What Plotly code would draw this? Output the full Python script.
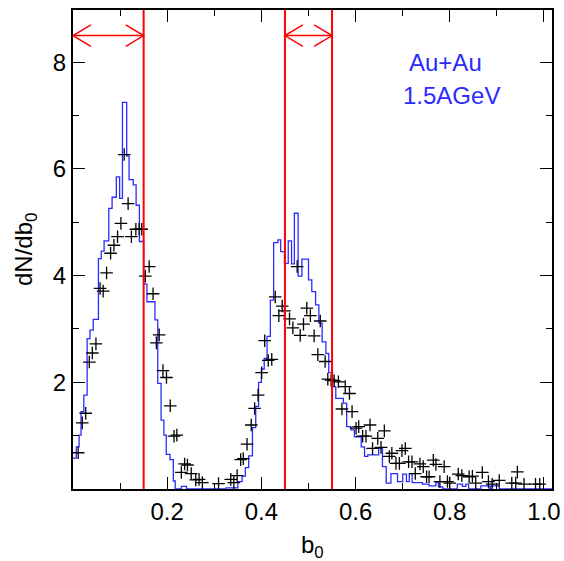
import plotly.graph_objects as go

# ---- data ----
hist_left_edges = [0.000, 0.007, 0.013, 0.017, 0.023, 0.030, 0.036, 0.043, 0.054, 0.060,
                   0.066, 0.076, 0.083, 0.092, 0.099, 0.105, 0.114, 0.119, 0.128, 0.134,
                   0.141, 0.150, 0.157, 0.174, 0.180, 0.187, 0.193, 0.198, 0.206, 0.213,
                   0.217, 0.230, 0.241, 0.325, 0.350, 0.359, 0.366, 0.373, 0.381, 0.388,
                   0.394, 0.400, 0.406, 0.412, 0.419, 0.426, 0.435, 0.441, 0.449, 0.457,
                   0.464, 0.470, 0.478, 0.486, 0.500, 0.507, 0.515, 0.522, 0.529, 0.537,
                   0.543, 0.551, 0.558, 0.574, 0.581, 0.590, 0.5975, 0.612, 0.619, 0.626,
                   0.649, 0.657, 0.665, 0.675, 0.689, 0.700, 0.708, 0.714, 0.720, 0.742,
                   0.756, 0.7705, 0.776, 0.785, 0.816, 0.827, 0.834, 0.840, 0.866, 0.8835,
                   0.887, 0.905]
hist_values = [0.58, 0.79, 1.01, 1.45, 1.76, 2.82, 2.98, 3.18, 4.32, 4.46,
               4.65, 5.26, 5.47, 5.85, 5.45, 7.25, 6.24, 5.80, 5.70, 5.32,
               4.64, 3.84, 3.51, 3.17, 1.98, 1.29, 1.01, 0.65, 0.55, 0.15,
               0.0, 0.05, 0.0, 0.02, 0.14, 0.24, 0.40, 0.62, 1.15, 1.55,
               2.00, 2.25, 2.45, 2.86, 3.54, 4.62, 4.67, 4.45, 4.23, 4.65,
               4.22, 5.17, 3.99, 4.31, 3.92, 3.70, 3.45, 3.11, 2.76, 2.54,
               2.18, 1.92, 1.70, 1.61, 1.17, 1.11, 0.98, 0.79, 0.61, 0.64,
               0.76, 0.42, 0.11, 0.29, 0.14, 0.28, 0.14, 0.29, 0.12, 0.09,
               0.06, 0.12, 0.04, 0.0, 0.09, 0.05, 0.09, 0.0, 0.06, 0.0,
               0.06, 0.0]
hist_end = 1.02

cross_x = [0.011, 0.0197, 0.027, 0.0346, 0.041, 0.0487, 0.0575, 0.064, 0.0713, 0.0798,
           0.0869, 0.0946, 0.1017, 0.1087, 0.117, 0.124, 0.1335, 0.1405, 0.146, 0.1535,
           0.1617, 0.170, 0.177, 0.183, 0.191, 0.1985, 0.2065, 0.2145, 0.2205, 0.230,
           0.237, 0.243, 0.251, 0.2606, 0.2676, 0.2747, 0.309, 0.335, 0.3415, 0.3485,
           0.356, 0.3615, 0.3695, 0.3785, 0.3856, 0.393, 0.4005, 0.407, 0.4145, 0.422,
           0.4294, 0.437, 0.4442, 0.449, 0.4597, 0.4668, 0.476, 0.4824, 0.4894, 0.4964,
           0.504, 0.512, 0.5198, 0.525, 0.5353, 0.541, 0.548, 0.5545, 0.5635, 0.578,
           0.587, 0.571, 0.5925, 0.601, 0.6066, 0.615, 0.622, 0.6306, 0.636, 0.647,
           0.654, 0.661, 0.6716, 0.677, 0.6857, 0.693, 0.6985, 0.7055, 0.7125, 0.7197,
           0.7267, 0.7366, 0.7436, 0.7507, 0.756, 0.765, 0.7705, 0.779, 0.788, 0.795,
           0.800, 0.818, 0.8256, 0.841, 0.848, 0.855, 0.869, 0.882, 0.890, 0.905,
           0.9316, 0.940, 0.9435, 0.9576, 0.982, 0.991]
cross_y = [0.68, 1.24, 1.42, 2.38, 2.55, 2.72, 3.76, 3.71, 4.05, 4.42,
           4.57, 4.73, 4.98, 6.27, 5.35, 4.73, 4.87, 4.87, 4.87, 3.99,
           4.17, 3.66, 2.74, 2.89, 2.22, 2.09, 1.56, 0.99, 1.01, 0.31,
           0.47, 0.45, 0.29, 0.17, 0.18, 0.12, 0.10, 0.18, 0.12, 0.25,
           0.55, 0.57, 0.84, 1.20, 1.51, 1.76, 2.18, 2.78, 2.41, 2.43,
           3.60, 3.25, 3.43, 3.34, 3.19, 3.02, 4.17, 2.88, 3.09, 3.39,
           3.25, 2.87, 2.52, 3.15, 2.39, 2.06, 2.04, 2.03, 2.01, 1.92,
           1.79, 1.50, 1.45, 1.14, 1.17, 0.99, 0.99, 1.20, 0.76, 0.95,
           0.78, 1.09, 0.61, 0.67, 0.48, 0.48, 0.72, 0.76, 0.51, 0.51,
           0.29, 0.47, 0.42, 0.23, 0.23, 0.54, 0.46, 0.14, 0.42, 0.14,
           0.11, 0.28, 0.25, 0.23, 0.24, 0.11, 0.31, 0.14, 0.09, 0.16,
           0.11, 0.11, 0.32, 0.09, 0.09, 0.09]

cut_lines = [0.15, 0.45, 0.55]
arrow_spans = [(0.0, 0.15), (0.45, 0.55)]
arrow_level = 8.5

x_tick_vals = [0.2, 0.4, 0.6, 0.8, 1.0]
x_tick_text = ["0.2", "0.4", "0.6", "0.8", "1.0"]
x_minor_vals = [0.1, 0.3, 0.5, 0.7, 0.9]
y_tick_vals = [2, 4, 6, 8]
y_tick_text = ["2", "4", "6", "8"]
y_minor_vals = [1, 3, 5, 7]

x_range = [0.0, 1.017]
y_range = [0.0, 8.98]

FONT = "Liberation Sans, Arial, Helvetica, sans-serif"
RED = "#ff0000"
BLUE = "#2b2bff"

fig = go.Figure()

fig.add_trace(go.Scatter(
    x=hist_left_edges + [hist_end],
    y=hist_values + [hist_values[-1]],
    mode="lines", line=dict(color=BLUE, width=1.3, shape="hv"),
    hoverinfo="skip", showlegend=False))

fig.add_trace(go.Scatter(
    x=cross_x, y=cross_y, mode="markers",
    marker=dict(symbol="cross-thin-open", size=9, color="black",
                line=dict(color="black", width=1.3)),
    showlegend=False))

shapes = []
for xv in cut_lines:
    shapes.append(dict(type="line", xref="x", yref="paper", x0=xv, x1=xv, y0=0, y1=1,
                       line=dict(color=RED, width=2)))

head_dx = 0.038
head_dy = 0.2
for a, b in arrow_spans:
    shapes.append(dict(type="line", xref="x", yref="y", x0=a, x1=b, y0=arrow_level, y1=arrow_level,
                       line=dict(color=RED, width=1.5)))
    shapes.append(dict(type="path", xref="x", yref="y",
                       path=f"M {a+head_dx},{arrow_level+head_dy} L {a},{arrow_level} L {a+head_dx},{arrow_level-head_dy}",
                       line=dict(color=RED, width=1.5)))
    shapes.append(dict(type="path", xref="x", yref="y",
                       path=f"M {b-head_dx},{arrow_level+head_dy} L {b},{arrow_level} L {b-head_dx},{arrow_level-head_dy}",
                       line=dict(color=RED, width=1.5)))

annotations = [
    dict(x=0.710, y=8.0, xref="x", yref="y", text="Au+Au", showarrow=False,
         xanchor="left", yanchor="middle", font=dict(family=FONT, size=24, color=BLUE)),
    dict(x=0.697, y=7.38, xref="x", yref="y", text="1.5AGeV", showarrow=False,
         xanchor="left", yanchor="middle", font=dict(family=FONT, size=24, color=BLUE)),
    dict(x=0.5, y=0, xref="paper", yref="paper", text="b<sub>0</sub>", showarrow=False,
         xanchor="center", yanchor="top", yshift=-40, font=dict(family=FONT, size=24, color="black")),
    dict(x=0, y=0.5, xref="paper", yref="paper", text="dN/db<sub>0</sub>", showarrow=False,
         textangle=-90, xanchor="right", yanchor="middle", xshift=-30,
         font=dict(family=FONT, size=24, color="black")),
]

axis_common = dict(showgrid=False, zeroline=False, showline=True, linecolor="black", linewidth=2,
                   mirror="allticks", ticks="inside", ticklen=12, tickwidth=1.3, tickcolor="black",
                   automargin=False,
                   tickfont=dict(family=FONT, size=24, color="black"))

fig.update_layout(
    width=564, height=561,
    margin=dict(l=73, r=12, t=10, b=72, autoexpand=False),
    paper_bgcolor="white", plot_bgcolor="white",
    shapes=shapes, annotations=annotations,
    xaxis=dict(range=x_range, tickmode="array", tickvals=x_tick_vals, ticktext=x_tick_text,
               minor=dict(tickmode="array", tickvals=x_minor_vals, ticks="inside", ticklen=6,
                          tickwidth=1.3, tickcolor="black"),
               **axis_common),
    yaxis=dict(range=y_range, tickmode="array", tickvals=y_tick_vals, ticktext=y_tick_text,
               minor=dict(tickmode="array", tickvals=y_minor_vals, ticks="inside", ticklen=6,
                          tickwidth=1.3, tickcolor="black"),
               **axis_common),
)

fig.write_html("out.html", config={"displayModeBar": False},
               post_script="document.body.style.margin='0px';document.body.style.overflow='hidden';")
